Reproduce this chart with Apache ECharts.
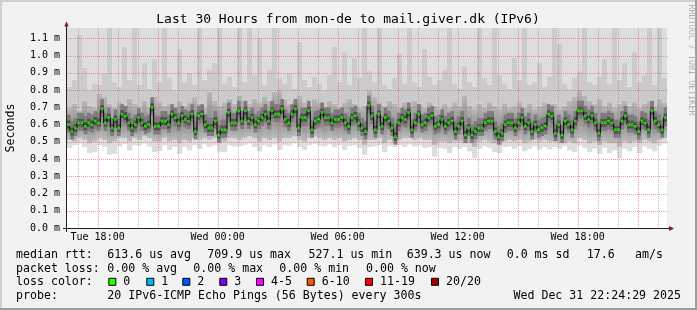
<!DOCTYPE html>
<html><head><meta charset="utf-8">
<script src="https://cdn.jsdelivr.net/npm/echarts@6/dist/echarts.min.js"></script>
<style>html,body{margin:0;padding:0;background:#f2f2f2;overflow:hidden}#c{width:697px;height:310px}</style>
</head><body><div id="c"></div>
<script>
// ---------------- data ----------------
var chartTitle = 'Last 30 Hours from mon-de to mail.giver.dk (IPv6)';
var yAxisName = 'Seconds';
var watermark = 'RRDTOOL / TOBI OETIKER';
var startHour = 16.47;          // hours since Tue 00:00 at left edge
var spanHours = 30;
var yMin = 0, yMax = 1.16;      // milliseconds
var yTicks = [0.1,0.2,0.3,0.4,0.5,0.6,0.7,0.8,0.9,1.0,1.1];
var xTickValues = [18,24,30,36,42];
var xTickLabels = ['Tue 18:00','Wed 00:00','Wed 06:00','Wed 12:00','Wed 18:00'];
var majorHours = [18,21,24,27,30,33,36,39,42,45];
var minorHours = [17,19,20,22,23,25,26,28,29,31,32,34,35,37,38,40,41,43,44,46];

// median rtt (ms), 180 steps of 10 minutes
var medianRtt = [
 0.60,0.56,0.58,0.61,0.61,0.59,0.61,0.60,0.62,0.61,
 0.69,0.61,0.64,0.58,0.63,0.58,0.66,0.65,0.61,0.58,
 0.60,0.64,0.61,0.59,0.60,0.70,0.59,0.59,0.62,0.62,
 0.60,0.66,0.64,0.61,0.65,0.63,0.62,0.66,0.56,0.65,
 0.66,0.60,0.58,0.58,0.62,0.54,
 0.57,0.57,0.67,0.61,0.61,0.68,0.62,0.68,0.62,0.64,
 0.60,0.62,0.64,0.66,0.62,0.68,0.66,0.66,0.69,0.63,
 0.61,0.66,0.69,0.58,0.64,0.64,0.68,0.57,0.62,0.63,
 0.67,0.64,0.64,0.61,0.63,0.63,0.64,0.61,0.59,0.64,
 0.65,0.61,0.58,0.56,0.71,
 0.65,0.57,0.66,0.59,0.64,0.62,0.58,0.53,0.61,0.64,
 0.63,0.67,0.57,0.61,0.66,0.60,0.61,0.64,0.65,0.59,
 0.60,0.63,0.59,0.61,0.62,0.56,0.59,0.62,0.54,0.58,
 0.54,0.56,0.58,0.58,0.61,0.62,0.62,0.56,0.53,0.55,
 0.60,0.61,0.61,0.58,0.61,
 0.64,0.59,0.61,0.56,0.60,0.57,0.58,0.59,0.66,0.65,
 0.55,0.60,0.54,0.62,0.60,0.57,0.62,0.68,0.68,0.65,
 0.63,0.65,0.61,0.55,0.61,0.61,0.62,0.61,0.57,0.57,
 0.62,0.65,0.60,0.60,0.59,0.56,0.62,0.61,0.57,0.68,
 0.62,0.60,0.57,0.64];

// smoke bands (ms), 120 steps of 15 minutes
var pingLowest = [
 0.465,0.48,0.49,0.47,0.435,0.44,0.48,0.47,0.425,0.43,
 0.473,0.485,0.45,0.48,0.478,0.49,0.473,0.44,0.445,0.48,
 0.453,0.47,0.43,0.47,0.45,0.48,0.46,0.485,0.47,0.48,
 0.44,0.44,0.48,0.473,0.473,0.48,0.49,0.47,0.443,0.48,
 0.47,0.485,0.453,0.48,0.478,0.49,0.47,0.453,0.48,0.488,
 0.48,0.473,0.485,0.468,0.48,0.453,0.475,0.48,0.465,0.425,
 0.47,0.473,0.48,0.44,0.475,0.47,0.48,0.47,0.485,0.473,
 0.48,0.465,0.47,0.415,0.465,0.46,0.435,0.47,0.46,0.47,
 0.445,0.405,0.46,0.473,0.465,0.44,0.435,0.47,0.473,0.46,
 0.475,0.445,0.46,0.475,0.455,0.47,0.455,0.47,0.46,0.475,
 0.45,0.44,0.478,0.465,0.44,0.46,0.43,0.465,0.435,0.45,
 0.405,0.46,0.445,0.47,0.435,0.473,0.46,0.445,0.478,0.49];
var pingLowQ = [
 0.51,0.50,0.52,0.51,0.49,0.50,0.52,0.51,0.49,0.50,
 0.52,0.52,0.50,0.52,0.51,0.53,0.52,0.50,0.50,0.52,
 0.50,0.51,0.49,0.51,0.50,0.52,0.51,0.52,0.51,0.52,
 0.49,0.50,0.52,0.52,0.51,0.52,0.53,0.52,0.50,0.52,
 0.51,0.52,0.50,0.52,0.52,0.53,0.51,0.50,0.52,0.53,
 0.52,0.51,0.52,0.51,0.52,0.50,0.51,0.52,0.51,0.48,
 0.51,0.51,0.52,0.49,0.51,0.49,0.51,0.52,0.52,0.51,
 0.52,0.51,0.51,0.48,0.50,0.50,0.49,0.50,0.50,0.49,
 0.49,0.47,0.50,0.51,0.50,0.49,0.48,0.50,0.51,0.50,
 0.51,0.49,0.50,0.51,0.50,0.51,0.50,0.50,0.49,0.49,
 0.50,0.49,0.52,0.51,0.49,0.50,0.48,0.50,0.49,0.49,
 0.47,0.50,0.49,0.50,0.49,0.51,0.50,0.49,0.51,0.52];
var pingHighQ = [
 0.70,0.72,0.68,0.74,0.71,0.70,0.78,0.76,0.72,0.70,
 0.73,0.71,0.75,0.72,0.69,0.74,0.70,0.76,0.73,0.71,
 0.72,0.70,0.74,0.71,0.73,0.76,0.72,0.70,0.79,0.74,
 0.71,0.73,0.75,0.72,0.77,0.74,0.72,0.75,0.73,0.76,
 0.74,0.79,0.80,0.75,0.72,0.74,0.77,0.73,0.71,0.75,
 0.73,0.71,0.74,0.72,0.70,0.73,0.75,0.72,0.70,0.71,
 0.80,0.76,0.73,0.71,0.74,0.72,0.70,0.73,0.71,0.74,
 0.72,0.70,0.73,0.71,0.69,0.72,0.70,0.73,0.71,0.77,
 0.71,0.69,0.72,0.70,0.73,0.71,0.69,0.72,0.70,0.71,
 0.73,0.70,0.72,0.69,0.71,0.73,0.70,0.72,0.69,0.71,
 0.74,0.76,0.80,0.77,0.74,0.72,0.75,0.71,0.73,0.70,
 0.72,0.74,0.71,0.73,0.70,0.72,0.74,0.71,0.75,0.73];
var pingHigh = [
 0.82,0.86,1.12,0.93,0.80,0.84,0.83,0.90,1.16,0.85,
 0.82,1.05,0.86,1.16,0.83,0.96,0.81,0.98,0.85,1.16,
 0.87,0.80,1.04,0.85,0.90,0.83,1.16,0.86,0.92,0.96,
 1.16,0.84,0.88,0.82,1.16,0.85,1.16,0.89,1.10,0.83,
 0.92,1.16,0.87,0.84,0.90,0.81,1.08,0.86,0.82,0.88,
 0.84,0.80,0.89,1.05,0.85,1.02,0.83,0.99,0.87,1.16,
 0.91,0.85,1.16,0.83,0.81,0.87,1.01,0.84,1.16,0.85,
 0.82,1.04,0.88,0.83,0.86,0.92,1.16,0.84,0.81,0.94,
 0.85,0.82,1.16,0.87,0.83,1.16,0.89,0.84,0.81,0.99,
 0.86,1.16,0.83,0.85,0.96,0.82,0.88,1.16,1.07,0.84,
 0.81,0.87,0.91,1.16,0.85,0.83,0.88,0.98,0.84,1.16,
 0.86,0.96,0.82,1.02,0.85,0.89,1.16,0.83,1.16,0.87];

// legend values
var rttLabel = 'median rtt:';
var rttStats = ['613.6 us avg','709.9 us max','527.1 us min','639.3 us now','0.0 ms sd','17.6','am/s'];
var lossLabel = 'packet loss:';
var lossStats = ['0.00 % avg','0.00 % max','0.00 % min','0.00 % now'];
var lossColorLabel = 'loss color:';
var lossLabels = ['0','1','2','3','4-5','6-10','11-19','20/20'];
var lossColors = ['#26ff00','#00b8ff','#0059ff','#7e00ff','#ff00ff','#ff5500','#ff0000','#a10000'];
var probeLabel = 'probe:';
var probeText = '20 IPv6-ICMP Echo Pings (56 Bytes) every 300s';
var dateText = 'Wed Dec 31 22:24:29 2025';

// ---------------- build ----------------
var MED_STEP = spanHours / medianRtt.length;
var BAND_STEP = spanHours / pingLowest.length;
var bandData = pingLowest.map(function (v, i) {
  return [startHour + i * BAND_STEP, v, pingLowQ[i], pingHighQ[i], pingHigh[i]];
});
var coreData = medianRtt.map(function (v, i) { return [startHour + i * MED_STEP, v]; });
var medData = medianRtt.map(function (v, i) { return [startHour + (i + 0.5) * MED_STEP, v]; });
var vGridData = []
  .concat(minorHours.map(function (h) { return [h, 0.5, 0]; }))
  .concat(majorHours.map(function (h) { return [h, 0.5, 1]; }));
var hGridData = yTicks.map(function (v) { return [startHour + 1, v]; });

var MONO = '"DejaVu Sans Mono", "Liberation Mono", monospace';
var MINOR_COLOR = 'rgba(143,143,143,0.6)';
var MAJOR_COLOR = 'rgba(222,79,79,0.55)';

function rect(x, y, w, h, fill) {
  return { type: 'rect', shape: { x: x, y: y, width: w, height: Math.max(0, h) }, style: { fill: fill } };
}
function renderBands(params, api) {
  var t = api.value(0);
  var a = api.coord([t, 0]), b = api.coord([t + BAND_STEP, 0]);
  var x = a[0], w = b[0] - a[0] + 0.3;
  var yTop = api.coord([t, yMax])[1];
  var yA = api.coord([t, api.value(1)])[1];
  var yB = api.coord([t, api.value(2)])[1];
  var yC = api.coord([t, api.value(3)])[1];
  var yD = Math.max(yTop, api.coord([t, api.value(4)])[1]);
  var grad = { type: 'linear', x: 0, y: 0, x2: 0, y2: 1, colorStops: [
    { offset: 0, color: '#b8b8b8' }, { offset: 0.55, color: '#8e8e8e' }, { offset: 1, color: '#bdbdbd' }] };
  return { type: 'group', children: [
    rect(x, yB, w, yA - yB, '#dddddd'),
    rect(x, yC, w, yB - yC, grad),
    rect(x, yD, w, yC - yD, '#cbcbcb'),
    rect(x, yTop, w, yD - yTop, '#dddddd')
  ] };
}
function renderCore(params, api) {
  var t = api.value(0), m = api.value(1);
  var a = api.coord([t, m]), b = api.coord([t + MED_STEP, m]);
  var x = a[0], w = b[0] - a[0] + 0.3, y = a[1];
  return { type: 'group', children: [
    rect(x, y - 10, w, 18, '#7c7c7c'),
    rect(x, y - 4, w, 8, '#505050')
  ] };
}
function renderVGrid(params, api) {
  var cs = params.coordSys;
  var x = Math.round(api.coord([api.value(0), 0])[0]) + 0.5;
  return { type: 'line', shape: { x1: x, y1: cs.y, x2: x, y2: cs.y + cs.height },
    style: { stroke: api.value(2) === 1 ? MAJOR_COLOR : MINOR_COLOR, lineWidth: 1, lineDash: [1, 1], fill: null } };
}
function renderHGrid(params, api) {
  var cs = params.coordSys;
  var y = Math.round(api.coord([api.value(0), api.value(1)])[1]) + 0.5;
  return { type: 'line', shape: { x1: cs.x, y1: y, x2: cs.x + cs.width + 2, y2: y },
    style: { stroke: MAJOR_COLOR, lineWidth: 1, lineDash: [1, 1], fill: null } };
}

function txt(x, y, s, size, opts) {
  opts = opts || {};
  return { type: 'text', x: x, y: y, rotation: opts.rot || 0, z: 100,
    style: { text: s, font: (size || 11.6) + 'px ' + MONO, fill: opts.fill || '#000',
      align: opts.align || 'left', verticalAlign: 'middle' } };
}

var graphics = [];
graphics.push({ type: 'rect', z: 100, shape: { x: 0, y: 0, width: 697, height: 2 }, style: { fill: '#cfcfcf' } });
graphics.push({ type: 'rect', z: 100, shape: { x: 0, y: 0, width: 2, height: 310 }, style: { fill: '#cfcfcf' } });
graphics.push({ type: 'rect', z: 100, shape: { x: 0, y: 308, width: 697, height: 2 }, style: { fill: '#9e9e9e' } });
graphics.push({ type: 'rect', z: 100, shape: { x: 695, y: 0, width: 2, height: 310 }, style: { fill: '#9e9e9e' } });
graphics.push({ type: 'line', z: 100, shape: { x1: 66.5, y1: 26, x2: 66.5, y2: 232 }, style: { stroke: '#1f1f1f', lineWidth: 1 } });
graphics.push({ type: 'line', z: 100, shape: { x1: 63, y1: 228.5, x2: 670, y2: 228.5 }, style: { stroke: '#1f1f1f', lineWidth: 1 } });
graphics.push({ type: 'polygon', z: 101, shape: { points: [[64.2, 26.5], [68.8, 26.5], [66.5, 21.3]] }, style: { fill: '#801f1f' } });
graphics.push({ type: 'polygon', z: 101, shape: { points: [[669, 226], [669, 231], [674, 228.5]] }, style: { fill: '#801f1f' } });
graphics.push(txt(348, 19.5, chartTitle, 13, { align: 'center' }));
graphics.push(txt(10.5, 128, yAxisName, 11.6, { align: 'center', rot: Math.PI / 2 }));
graphics.push(txt(691.5, 60, watermark, 8.4, { align: 'center', rot: -Math.PI / 2, fill: '#b0b0b0' }));
var r1 = 254.5, r2 = 268.5, r3 = 282.3, r4 = 296;
graphics.push(txt(16, r1, rttLabel));
var rttX = [107.3, 207.3, 308.5, 406.7, 506.7, 586.7, 635];
rttStats.forEach(function (s, i) { graphics.push(txt(rttX[i], r1, s)); });
graphics.push(txt(16, r2, lossLabel));
var lossX = [107.3, 193.3, 279.3, 366];
lossStats.forEach(function (s, i) { graphics.push(txt(lossX[i], r2, s)); });
graphics.push(txt(16, r3, lossColorLabel));
var lcX = [123.3, 161.3, 197.3, 234.3, 271, 321.7, 380, 446];
lossLabels.forEach(function (s, i) {
  graphics.push({ type: 'rect', z: 100, shape: { x: lcX[i] - 14.5, y: 278.3, width: 7, height: 7 },
    style: { fill: lossColors[i], stroke: '#000', lineWidth: 1 } });
  graphics.push(txt(lcX[i], r3, s));
});
graphics.push(txt(16, r4, probeLabel));
graphics.push(txt(107.3, r4, probeText));
graphics.push(txt(681, r4, dateText, 11.6, { align: 'right' }));

var chart = echarts.init(document.getElementById('c'), null, { renderer: 'canvas' });
chart.setOption({
  animation: false,
  backgroundColor: '#f2f2f2',
  grid: { left: 67, top: 28, width: 600, height: 200, backgroundColor: '#ffffff', show: true, borderWidth: 0 },
  xAxis: {
    type: 'value', min: startHour, max: startHour + spanHours,
    axisLine: { show: false }, axisTick: { show: false }, splitLine: { show: false }, minorSplitLine: { show: false },
    axisLabel: {
      customValues: xTickValues, margin: 4, color: '#000', fontFamily: MONO, fontSize: 10,
      formatter: function (v) { var i = xTickValues.indexOf(v); return i >= 0 ? xTickLabels[i] : ''; }
    }
  },
  yAxis: {
    type: 'value', min: yMin, max: yMax, interval: 0.1,
    axisLine: { show: false }, axisTick: { show: false }, splitLine: { show: false }, minorSplitLine: { show: false },
    axisLabel: {
      margin: 7, color: '#000', fontFamily: MONO, fontSize: 10,
      formatter: function (v) { return Math.abs(v * 10 - Math.round(v * 10)) < 1e-6 ? v.toFixed(1) + ' m' : ''; }
    }
  },
  graphic: graphics,
  series: [
    { type: 'custom', name: 'smoke', renderItem: renderBands, data: bandData, clip: true, z: 1, silent: true },
    { type: 'custom', name: 'core', renderItem: renderCore, data: coreData, clip: true, z: 2, silent: true },
    { type: 'custom', name: 'vgrid', renderItem: renderVGrid, data: vGridData, clip: false, z: 3, silent: true },
    { type: 'custom', name: 'hgrid', renderItem: renderHGrid, data: hGridData, clip: false, z: 3, silent: true },
    { type: 'line', name: 'median', data: medData, step: 'middle', showSymbol: false, z: 4, silent: true,
      lineStyle: { color: '#000', width: 1 } },
    { type: 'scatter', name: 'medianDots', data: medData, symbol: 'rect', symbolSize: [3, 2.6], z: 5, silent: true,
      itemStyle: { color: '#1eff00' } }
  ]
});
</script></body></html>
